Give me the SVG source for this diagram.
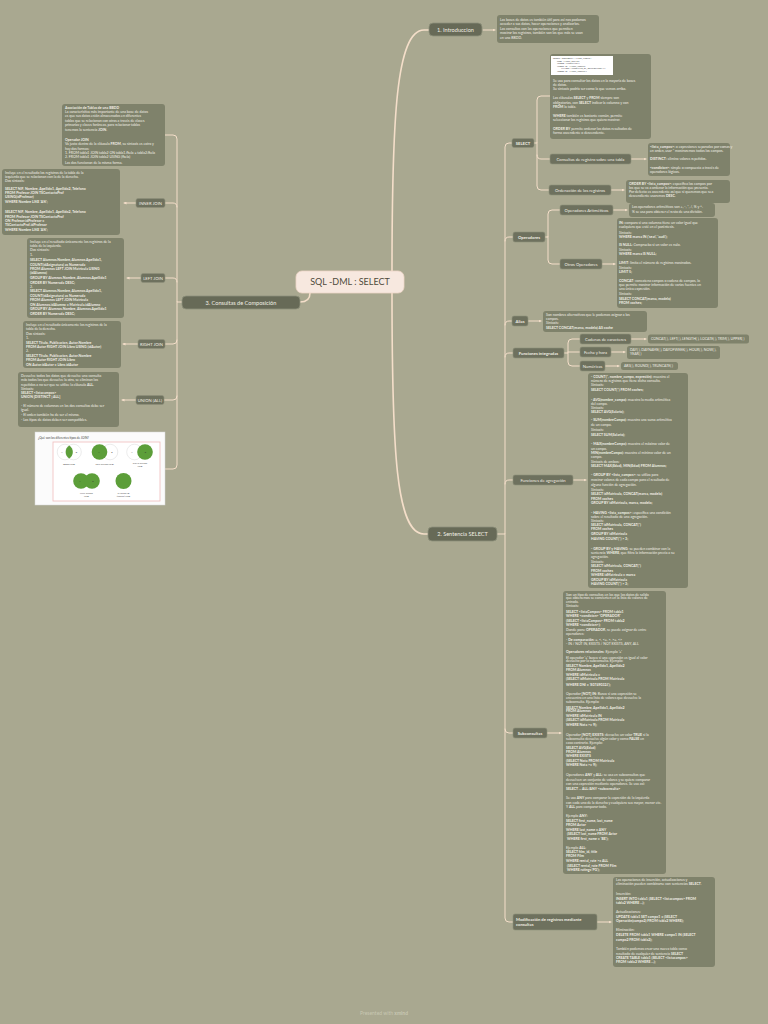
<svg xmlns="http://www.w3.org/2000/svg" width="768" height="1024" viewBox="0 0 768 1024">
<defs>
<marker id="ah" viewBox="0 0 6 6" refX="5" refY="3" markerWidth="3" markerHeight="3" orient="auto"><path d="M0,0 L6,3 L0,6 z" fill="#f4dec9"/></marker>
</defs>
<style>
.bg{fill:#a9a890}
.box{fill:#7f826b}
.pill{fill:#6e715e;stroke:#8e907b;stroke-width:0.6}
.main{fill:#676a57;stroke:#8e907b;stroke-width:0.8}
.c{fill:none;stroke:#f4dec9;stroke-width:1;stroke-linecap:round}
.cm{fill:none;stroke:#f4dec9;stroke-width:1.6;stroke-linecap:round}
.t{font-family:Lato,'Open Sans',sans-serif;font-size:3.5px;fill:#f1efe5}
.b{font-weight:700}
.pt{font-family:Lato,'Open Sans',sans-serif;font-size:4.2px;fill:#f1eee3}
.mt{font-family:Lato,'Open Sans',sans-serif;font-size:5.6px;fill:#f1eee3}
.code{font-family:'Liberation Mono',monospace;font-size:2px;fill:#333}
.vl{font-family:Lato,'Open Sans',sans-serif;font-size:2.2px;fill:#555;text-anchor:middle}
.va{font-family:Lato,'Open Sans',sans-serif;font-size:2px;fill:#333;text-anchor:middle}
.g{fill:#5c9e39}
.o{fill:#fff;stroke:#cfcfcf;stroke-width:0.4}
</style>
<rect class="bg" width="768" height="1024"/>

<g id="connectors">
<path class="cm" d="M392,272 C392,120 396,30 424,30 L429,30"/>
<path class="cm" d="M392,293 C392,450 396,534 424,534 L428,534"/>
<path class="cm" d="M310,293 Q310,302 300,302"/>
<path class="c" d="M483,30 H495" marker-end="url(#ah)"/>
<path class="c" d="M497,534 H505 V147 Q505,143 509,143 H512"/>
<path class="c" d="M505,241 Q505,237 509,237 H513"/>
<path class="c" d="M505,325 Q505,321 509,321 H512"/>
<path class="c" d="M505,357 Q505,353 509,353 H513"/>
<path class="c" d="M505,484 Q505,480 509,480 H513"/>
<path class="c" d="M505,534 V729 Q505,733 509,733 H513"/>
<path class="c" d="M505,729 V918 Q505,922 509,922 H513"/>
<path class="c" d="M534,143 H537 V100 Q537,96 541,96 H550"/>
<path class="c" d="M537,143 V186 Q537,190 541,190 H549"/>
<path class="c" d="M537,155 Q537,159 541,159 H550"/>
<path class="c" d="M631,159 H646" marker-end="url(#ah)"/>
<path class="c" d="M611,190 H624" marker-end="url(#ah)"/>
<path class="c" d="M545,237 H548 V214 Q548,210 552,210 H560"/>
<path class="c" d="M548,237 V260 Q548,264 552,264 H560"/>
<path class="c" d="M613,210 H627" marker-end="url(#ah)"/>
<path class="c" d="M602,264 H615" marker-end="url(#ah)"/>
<path class="c" d="M528,321 H541" marker-end="url(#ah)"/>
<path class="c" d="M564,353 H568 V343 Q568,339 572,339 H580"/>
<path class="c" d="M568,353 V362 Q568,366 572,366 H580"/>
<path class="c" d="M568,352 H580"/>
<path class="c" d="M631,339 H646" marker-end="url(#ah)"/>
<path class="c" d="M611,352 H625" marker-end="url(#ah)"/>
<path class="c" d="M605,366 H619" marker-end="url(#ah)"/>
<path class="c" d="M573,480 H586" marker-end="url(#ah)"/>
<path class="c" d="M547,733 H561" marker-end="url(#ah)"/>
<path class="c" d="M597,922 H611" marker-end="url(#ah)"/>
<path class="c" d="M182,302 H177 V139 Q177,135 173,135 H165"/>
<path class="c" d="M177,207 Q177,203 173,203 H165"/>
<path class="c" d="M177,282 Q177,278 173,278 H165"/>
<path class="c" d="M177,302 V340 Q177,344 173,344 H165"/>
<path class="c" d="M177,340 V396 Q177,400 173,400 H164"/>
<path class="c" d="M177,396 V465 Q177,469 173,469 H165"/>
<path class="c" d="M136,203 H124" marker-end="url(#ah)"/>
<path class="c" d="M141,278 H127" marker-end="url(#ah)"/>
<path class="c" d="M138,344 H123" marker-end="url(#ah)"/>
<path class="c" d="M136,400 H122" marker-end="url(#ah)"/>
</g>

<g id="central">
<rect x="296" y="271" width="108" height="22" rx="6" fill="#f7e8df" stroke="#eed6c6" stroke-width="0.8"/>
<text x="350" y="285" font-family="Lato,'Open Sans',sans-serif" font-size="9" fill="#4f4b3c" text-anchor="middle">SQL -DML : SELECT</text>
</g>

<g id="n-intro">
<rect class="main" x="429" y="23" width="53" height="13" rx="4"/>
<text class="mt" x="455.5" y="31.8" text-anchor="middle">1. Introduccion</text>
</g>
<g id="b-intro">
<rect class="box" x="497" y="15" width="102" height="28" rx="3"/>
<text class="t"><tspan x="500" y="21">Las bases de datos es también útil para así nos podamos</tspan><tspan x="500" y="25.4">acceder a sus datos, hacer operaciones y analizarlos.</tspan><tspan x="500" y="29.8">Las consultas con las operaciones que permiten</tspan><tspan x="500" y="34.2">mostrar los registros, también son las que más se usan</tspan><tspan x="500" y="38.6">en una BBDD.</tspan></text>
</g>

<g id="n-sentencia">
<rect class="main" x="428" y="527" width="69" height="14" rx="4"/>
<text class="mt" x="462.5" y="536.2" text-anchor="middle">2. Sentencia SELECT</text>
</g>

<g id="n-select">
<rect class="pill" x="512" y="138.5" width="22" height="9" rx="2"/>
<text class="pt b" x="523" y="144.5" text-anchor="middle">SELECT</text>
</g>
<g id="b-select">
<rect class="box" x="550" y="54" width="101" height="85" rx="3"/>
<rect x="551" y="56" width="62" height="19" fill="#fff"/>
<text class="code"><tspan x="553" y="59">SELECT [DISTINCT] &lt;lista_campos&gt;</tspan><tspan x="557" y="61.6">FROM &lt;lista_tablas&gt;</tspan><tspan x="557" y="64.2">[WHERE &lt;condicion&gt;]</tspan><tspan x="557" y="66.8">[GROUP BY &lt;lista_campos&gt;</tspan><tspan x="561" y="69.4">[HAVING &lt;condicion_de_agrupamiento&gt;]]</tspan><tspan x="557" y="72">[ORDER BY &lt;lista_campos&gt;]</tspan></text>
<text class="t"><tspan x="553" y="81.5">Se usa para consultar los datos en la mayoría de bases</tspan><tspan x="553" y="85.9">de datos.</tspan><tspan x="553" y="90.3">Su sintaxis podría ser como la que vemos arriba.</tspan><tspan x="553" y="99.1">Las cláusulas <tspan class="b">SELECT</tspan> y <tspan class="b">FROM</tspan> siempre son</tspan><tspan x="553" y="103.5">obligatorias, con <tspan class="b">SELECT</tspan> indicar la columna y con</tspan><tspan x="553" y="107.9" class="b">FROM <tspan font-weight="400">la tabla.</tspan></tspan><tspan x="553" y="116.7"><tspan class="b">WHERE</tspan> también es bastante común, permite</tspan><tspan x="553" y="121.1">seleccionar los registros que quiero mostrar.</tspan><tspan x="553" y="129.9"><tspan class="b">ORDER BY</tspan> permite ordenar los datos resultados de</tspan><tspan x="553" y="134.3">forma ascendente o descendente.</tspan></text>
</g>

<g id="n-consultas-reg">
<rect class="pill" x="550" y="154" width="81" height="10" rx="2"/>
<text class="pt" x="590.5" y="160.5" text-anchor="middle">Consultas de registro sobre una tabla</text>
</g>
<g id="b-consultas-reg">
<rect class="box" x="648" y="143" width="82" height="33" rx="3"/>
<text class="t"><tspan x="650" y="147.5"><tspan class="b">&lt;lista_campos&gt;</tspan>: o expresiones separadas por comas y</tspan><tspan x="650" y="151.5">en orden, usar * mostraremos todos los campos.</tspan><tspan x="650" y="160"><tspan class="b">DISTINCT</tspan>: elimina valores repetidos.</tspan><tspan x="650" y="168.5"><tspan class="b">&lt;condicion&gt;</tspan>: simple o compuesta a través de</tspan><tspan x="650" y="172.5">operadores lógicos.</tspan></text>
</g>

<g id="n-ordenacion">
<rect class="pill" x="549" y="185" width="62" height="10" rx="2"/>
<text class="pt" x="580" y="191.5" text-anchor="middle">Ordenación de los registros</text>
</g>
<g id="b-ordenacion">
<rect class="box" x="626" y="180" width="104" height="23" rx="3"/>
<text class="t"><tspan x="629" y="184.5"><tspan class="b">ORDER BY &lt;lista_campos&gt;</tspan>: especifica los campos por</tspan><tspan x="629" y="188.8">los que se va a ordenar la información que presenta.</tspan><tspan x="629" y="193.1">Por defecto es ascendente así que si queremos que sea</tspan><tspan x="629" y="197.4">descendiente usaremos <tspan class="b">DESC</tspan>.</tspan></text>
</g>

<g id="n-operadores">
<rect class="pill" x="513" y="232" width="32" height="10" rx="2"/>
<text class="pt b" x="529" y="238.5" text-anchor="middle">Operadores</text>
</g>
<g id="n-aritmeticos">
<rect class="pill" x="560" y="205" width="53" height="10" rx="2"/>
<text class="pt" x="586.5" y="211.5" text-anchor="middle">Operadores Aritméticos</text>
</g>
<g id="b-aritmeticos">
<rect class="box" x="629" y="203" width="86" height="14" rx="3"/>
<text class="t"><tspan x="632" y="208.3">Los operadores aritméticos son +, -, *, /, % y ^.</tspan><tspan x="632" y="212.6">% se usa para obtener el resto de una división.</tspan></text>
</g>
<g id="n-otros">
<rect class="pill" x="560" y="259" width="42" height="10" rx="2"/>
<text class="pt" x="581" y="265.5" text-anchor="middle">Otros Operadores</text>
</g>
<g id="b-otros">
<rect class="box" x="617" y="218" width="101" height="90" rx="3"/>
<text class="t"><tspan x="619" y="223.5"><tspan class="b">IN</tspan>: compara si una columna tiene un valor igual que</tspan><tspan x="619" y="227.6">cualquiera que esté en el paréntesis.</tspan><tspan x="619" y="233.8">Sintaxis:</tspan><tspan x="619" y="237.9" class="b">WHERE marca IN ('seat', 'audi');</tspan><tspan x="619" y="246.2"><tspan class="b">IS NULL</tspan>: Comprueba si un valor es nulo.</tspan><tspan x="619" y="251.2">Sintaxis:</tspan><tspan x="619" y="255.4" class="b">WHERE marca IS NULL;</tspan><tspan x="619" y="264.4"><tspan class="b">LIMIT</tspan>: limita el número de registros mostrados.</tspan><tspan x="619" y="268.8">Sintaxis:</tspan><tspan x="619" y="272.9" class="b">LIMIT 5;</tspan><tspan x="619" y="281.8"><tspan class="b">CONCAT</tspan>: concatena campos o cadena de campos, lo</tspan><tspan x="619" y="286.1">que permite mostrar información de varias fuentes en</tspan><tspan x="619" y="290.4">una única expresión.</tspan><tspan x="619" y="295.4">Sintaxis:</tspan><tspan x="619" y="300.1" class="b">SELECT CONCAT(marca, modelo)</tspan><tspan x="619" y="304.4" class="b">FROM coches;</tspan></text>
</g>

<g id="n-alias">
<rect class="pill" x="512" y="316" width="16" height="10" rx="2"/>
<text class="pt b" x="520" y="322.6" text-anchor="middle">Alias</text>
</g>
<g id="b-alias">
<rect class="box" x="543" y="311" width="104" height="21" rx="3"/>
<text class="t"><tspan x="546" y="316.2">Son nombres alternativos que le podemos asignar a los</tspan><tspan x="546" y="320">campos.</tspan><tspan x="546" y="323.9">Sintaxis:</tspan><tspan x="546" y="328.8" class="b">SELECT CONCAT(marca, modelo) AS coche</tspan></text>
</g>

<g id="n-func-int">
<rect class="pill" x="513" y="348" width="51" height="10" rx="2"/>
<text class="pt b" x="538.5" y="354.5" text-anchor="middle">Funciones integradas</text>
</g>
<g id="n-cadenas">
<rect class="pill" x="580" y="334" width="51" height="10" rx="2"/>
<text class="pt" x="605.5" y="340.5" text-anchor="middle">Cadenas de caracteres</text>
</g>
<g id="b-cadenas">
<rect class="box" x="648" y="334.5" width="101" height="9" rx="2.5"/>
<text class="t" x="651" y="340.2">CONCAT( ), LEFT( ), LENGTH( ), LOCATE( ), TRIM( ), UPPER( )</text>
</g>
<g id="n-fecha">
<rect class="pill" x="580" y="347" width="31" height="10" rx="2"/>
<text class="pt" x="595.5" y="353.5" text-anchor="middle">Fecha y hora</text>
</g>
<g id="b-fecha">
<rect class="box" x="627" y="346" width="93" height="13" rx="2.5"/>
<text class="t"><tspan x="630" y="350.6">DAY( ), DAYNAME( ), DAYOFWEEK( ), HOUR( ), NOW( ),</tspan><tspan x="630" y="354.8">YEAR( )</tspan></text>
</g>
<g id="n-numericas">
<rect class="pill" x="580" y="361" width="25" height="10" rx="2"/>
<text class="pt" x="592.5" y="367.5" text-anchor="middle">Numéricas</text>
</g>
<g id="b-numericas">
<rect class="box" x="621" y="362" width="57" height="8" rx="2.5"/>
<text class="t" x="624" y="367.2">ABS( ), ROUND( ), TRUNCATE( )</text>
</g>

<g id="n-func-agr">
<rect class="pill" x="513" y="475" width="60" height="10" rx="2"/>
<text class="pt" x="543" y="481.5" text-anchor="middle">Funciones de agregación</text>
</g>
<g id="b-func-agr">
<rect class="box" x="588" y="373" width="100" height="215" rx="3"/>
<text class="t"><tspan x="591" y="378"><tspan class="b">- COUNT(*, nombre_campo, expresión)</tspan>: muestra el</tspan><tspan x="591" y="382.3">número de registros que tiene dicha consulta.</tspan><tspan x="591" y="386.4">Sintaxis:</tspan><tspan x="591" y="391.3" class="b">SELECT COUNT(*) FROM coches;</tspan><tspan x="591" y="400.8"><tspan class="b">- AVG(nombre_campo)</tspan>: muestra la media aritmética</tspan><tspan x="591" y="405">del campo.</tspan><tspan x="591" y="409.2">Sintaxis:</tspan><tspan x="591" y="413.2" class="b">SELECT AVG(Salario);</tspan><tspan x="591" y="421.4"><tspan class="b">- SUM(nombreCampo)</tspan>: muestra una suma aritmética</tspan><tspan x="591" y="425.6">de un campo.</tspan><tspan x="591" y="430.5">Sintaxis:</tspan><tspan x="591" y="436.2" class="b">SELECT SUM(Salario);</tspan><tspan x="591" y="445.3"><tspan class="b">- MAX(nombreCampo)</tspan>: muestra el máximo valor de</tspan><tspan x="591" y="449.6">un campo.</tspan><tspan x="591" y="453.7"><tspan class="b">MIN(nombreCampo)</tspan>: muestra el mínimo valor de un</tspan><tspan x="591" y="458">campo.</tspan><tspan x="591" y="462.9">Sintaxis de ambos:</tspan><tspan x="591" y="467.3" class="b">SELECT MAX(Edad), MIN(Edad) FROM Alumnos;</tspan><tspan x="591" y="476.3"><tspan class="b">- GROUP BY &lt;lista_campos&gt;</tspan>: se utiliza para</tspan><tspan x="591" y="481.2">mostrar valores de cada campo para el resultado de</tspan><tspan x="591" y="485.6">alguna función de agregación.</tspan><tspan x="591" y="490.6">Sintaxis:</tspan><tspan x="591" y="495.3" class="b">SELECT idMatricula, CONCAT(marca, modelo)</tspan><tspan x="591" y="499.6" class="b">FROM coches</tspan><tspan x="591" y="504" class="b">GROUP BY idMatricula, marca, modelo;</tspan><tspan x="591" y="513.6"><tspan class="b">- HAVING &lt;lista_campos&gt;</tspan>: especifica una condición</tspan><tspan x="591" y="518">sobre el resultado de una agregación.</tspan><tspan x="591" y="522">Sintaxis:</tspan><tspan x="591" y="525.6" class="b">SELECT idMatricula, CONCAT(*)</tspan><tspan x="591" y="530.3" class="b">FROM coches</tspan><tspan x="591" y="534.6" class="b">GROUP BY idMatricula</tspan><tspan x="591" y="539.6" class="b">HAVING COUNT(*) &gt; 3;</tspan><tspan x="591" y="549.6"><tspan class="b">- GROUP BY y HAVING</tspan>: se pueden combinar con la</tspan><tspan x="591" y="553.6">sentencia <tspan class="b">WHERE</tspan>, que filtra la información previa a su</tspan><tspan x="591" y="558">agregación.</tspan><tspan x="591" y="562.6">Sintaxis:</tspan><tspan x="591" y="567.1" class="b">SELECT idMatricula, CONCAT(*)</tspan><tspan x="591" y="571.8" class="b">FROM coches</tspan><tspan x="591" y="575.9" class="b">WHERE idMatricula = marca</tspan><tspan x="591" y="580.5" class="b">GROUP BY idMatricula</tspan><tspan x="591" y="585.2" class="b">HAVING COUNT(*) &gt; 3;</tspan></text>
</g>

<g id="n-subconsultas">
<rect class="pill" x="513" y="728" width="34" height="10" rx="2"/>
<text class="pt b" x="530" y="734.5" text-anchor="middle">Subconsultas</text>
</g>
<g id="b-subconsultas">
<rect class="box" x="563" y="591" width="103" height="283" rx="3"/>
<text class="t"><tspan x="566" y="595.5">Son un tipo de consultas en las que los datos de salida</tspan><tspan x="566" y="599.3">que obtenemos se convierten en la lista de valores de</tspan><tspan x="566" y="603.1">entrada.</tspan><tspan x="566" y="606.6">Sintaxis:</tspan><tspan x="566" y="612.9" class="b">SELECT &lt;listaCampos&gt; FROM tabla1</tspan><tspan x="566" y="616.9" class="b">WHERE &lt;condicion&gt; 'OPERADOR'</tspan><tspan x="566" y="622.2" class="b">(SELECT &lt;listaCampos&gt; FROM tabla2</tspan><tspan x="566" y="626.2" class="b">WHERE &lt;condicion&gt;);</tspan><tspan x="566" y="631.2">Donde pone <tspan class="b">OPERADOR</tspan>, se puede asignar de entre</tspan><tspan x="566" y="635.2">operadores:</tspan><tspan x="566" y="640.5">- <tspan class="b">De comparación</tspan>: =, &lt;, &lt;=, &gt;, &gt;=, &lt;&gt;</tspan><tspan x="566" y="644.5">- IN / NOT IN, EXISTS / NOT EXISTS, ANY, ALL</tspan><tspan x="566" y="652.9"><tspan class="b">Operadores relacionales</tspan>: Ejemplo '='</tspan><tspan x="566" y="658.5">El operador '=' busca si una expresión es igual al valor</tspan><tspan x="566" y="662.2">devuelto por la subconsulta. Ejemplo:</tspan><tspan x="566" y="667.2" class="b">SELECT Nombre, Apellido1, Apellido2</tspan><tspan x="566" y="671.2" class="b">FROM Alumnos</tspan><tspan x="566" y="676.2" class="b">WHERE idMatricula =</tspan><tspan x="566" y="680.2" class="b">(SELECT idMatricula FROM Matricula</tspan><tspan x="566" y="685.5" class="b">WHERE DNI = '80749032J');</tspan><tspan x="566" y="694.5">Operador <tspan class="b">[NOT] IN</tspan>: Busca si una expresión se</tspan><tspan x="566" y="698.9">encuentra en una lista de valores que devuelve la</tspan><tspan x="566" y="702.9">subconsulta. Ejemplo:</tspan><tspan x="566" y="708.5" class="b">SELECT Nombre, Apellido1, Apellido2</tspan><tspan x="566" y="712.2" class="b">FROM Alumnos</tspan><tspan x="566" y="717.2" class="b">WHERE idMatricula IN</tspan><tspan x="566" y="721.2" class="b">(SELECT idMatricula FROM Matricula</tspan><tspan x="566" y="726.2" class="b">WHERE Nota &gt;= 9);</tspan><tspan x="566" y="735.5">Operador <tspan class="b">[NOT] EXISTS</tspan>: devuelve un valor <tspan class="b">TRUE</tspan> si la</tspan><tspan x="566" y="739.5">subconsulta devuelve algún valor y como <tspan class="b">FALSE</tspan> en</tspan><tspan x="566" y="743.9">caso contrario. Ejemplo:</tspan><tspan x="566" y="748.5" class="b">SELECT AVG(Edad)</tspan><tspan x="566" y="753" class="b">FROM Alumnos</tspan><tspan x="566" y="757.3" class="b">WHERE EXISTS</tspan><tspan x="566" y="762.2" class="b">(SELECT Nota FROM Matricula</tspan><tspan x="566" y="766.2" class="b">WHERE Nota &gt;= 9);</tspan><tspan x="566" y="776.2">Operadores <tspan class="b">ANY</tspan> y <tspan class="b">ALL</tspan>: se usa en subconsultas que</tspan><tspan x="566" y="780.5">devuelven un conjunto de valores y se quiere comparar</tspan><tspan x="566" y="784.5">con una expresión mediante operadores. Se usa así:</tspan><tspan x="566" y="789.5" class="b">SELECT ... ALL/ANY &lt;subconsulta&gt;</tspan><tspan x="566" y="798.9">Se usa <tspan class="b">ANY</tspan> para comparar la expresión de la izquierda</tspan><tspan x="566" y="803.5">con cada uno de la derecha y cualquiera sea mayor, menor etc.</tspan><tspan x="566" y="807.9">Y <tspan class="b">ALL</tspan> para comparar todo.</tspan><tspan x="566" y="817.2">Ejemplo <tspan class="b">ANY</tspan>:</tspan><tspan x="566" y="821.9" class="b">SELECT first_name, last_name</tspan><tspan x="566" y="826.2" class="b">FROM Actor</tspan><tspan x="566" y="830.5" class="b">WHERE last_name = ANY</tspan><tspan x="567" y="835.2" class="b">(SELECT last_name FROM Actor</tspan><tspan x="567" y="840.2" class="b">WHERE first_name = 'BE');</tspan><tspan x="566" y="848.9">Ejemplo <tspan class="b">ALL</tspan>:</tspan><tspan x="566" y="852.9" class="b">SELECT film_id, title</tspan><tspan x="566" y="857.2" class="b">FROM Film</tspan><tspan x="566" y="861.9" class="b">WHERE rental_rate &gt;= ALL</tspan><tspan x="567" y="866.9" class="b">(SELECT rental_rate FROM Film</tspan><tspan x="567" y="871.2" class="b">WHERE rating='PG');</tspan></text>
</g>

<g id="n-modificacion">
<rect class="pill" x="513" y="914" width="84" height="16" rx="2"/>
<text class="pt b"><tspan x="516" y="920.8">Modificación de registros mediante</tspan><tspan x="516" y="926">consultas</tspan></text>
</g>
<g id="b-modificacion">
<rect class="box" x="613" y="877" width="102" height="90" rx="3"/>
<text class="t"><tspan x="616" y="881.2">Las operaciones de inserción, actualizaciones y</tspan><tspan x="616" y="885.2">eliminación pueden combinarse con sentencias <tspan class="b">SELECT</tspan>.</tspan><tspan x="616" y="894.5">Inserción:</tspan><tspan x="616" y="899.5" class="b">INSERT INTO tabla1 (SELECT &lt;listacampos&gt; FROM</tspan><tspan x="616" y="903.9" class="b">tabla2 WHERE ...);</tspan><tspan x="616" y="912.9">Actualizaciones:</tspan><tspan x="616" y="917.9" class="b">UPDATE tabla1 SET campo1 = (SELECT</tspan><tspan x="616" y="922.2" class="b">Operación(campo2) FROM tabla2 WHERE);</tspan><tspan x="616" y="931.2">Eliminación:</tspan><tspan x="616" y="936.2" class="b">DELETE FROM tabla1 WHERE campo1 IN (SELECT</tspan><tspan x="616" y="940.5" class="b">campo2 FROM tabla2);</tspan><tspan x="616" y="950.2">También podemos crear una nueva tabla como</tspan><tspan x="616" y="954.5">resultado de cualquier de sentencia <tspan class="b">SELECT</tspan></tspan><tspan x="616" y="958.5" class="b">CREATE TABLE tabla1 (SELECT &lt;listacampos&gt;</tspan><tspan x="616" y="962.8" class="b">FROM tabla2 WHERE ...);</tspan></text>
</g>

<g id="n-composicion">
<rect class="main" x="182" y="296" width="118" height="13" rx="4"/>
<text class="mt" x="241" y="304.8" text-anchor="middle">3. Consultas de Composición</text>
</g>
<g id="b-asociacion">
<rect class="box" x="62" y="104" width="103" height="62" rx="3"/>
<text class="t"><tspan x="65" y="108.5" class="b">Asociación de Tablas de una BBDD</tspan><tspan x="65" y="112.9">La característica más importante de una base de datos</tspan><tspan x="65" y="116.9">es que sus datos están almacenados en diferentes</tspan><tspan x="65" y="121.9">tablas que se relacionan con otras a través de claves</tspan><tspan x="65" y="126.2">primarias y claves foráneas, para relacionar tablas</tspan><tspan x="65" y="130.5">tenemos la sentencia <tspan class="b">JOIN</tspan>.</tspan><tspan x="65" y="140.5" class="b">Operador JOIN</tspan><tspan x="65" y="145.2">Va justo dentro de la cláusula <tspan class="b">FROM</tspan>, su sintaxis es extra y</tspan><tspan x="65" y="149.5">hay dos formas:</tspan><tspan x="65" y="153.9">1. FROM tabla1 JOIN tabla2 ON tabla1.fkela = tabla2.fkela</tspan><tspan x="65" y="157.9">2. FROM tabla1 JOIN tabla2 USING (fkela)</tspan><tspan x="65" y="163.9">Las dos funcionan de la misma forma.</tspan></text>
</g>

<g id="n-inner">
<rect class="pill" x="136" y="198.5" width="29" height="9" rx="2"/>
<text class="pt" x="150.5" y="204.5" text-anchor="middle">INNER JOIN</text>
</g>
<g id="b-inner">
<rect class="box" x="2" y="169" width="118" height="66" rx="3"/>
<text class="t"><tspan x="5" y="173.9">Incluye en el resultado los registros de la tabla de la</tspan><tspan x="5" y="177.9">izquierda que se relacionan con la de la derecha.</tspan><tspan x="5" y="181.9">Dos sintaxis:</tspan><tspan x="5" y="190" class="b">SELECT NIF, Nombre, Apellido1, Apellido2, Telefono</tspan><tspan x="5" y="194.2" class="b">FROM Profesor JOIN TSContactoProf</tspan><tspan x="5" y="198.4" class="b">USING(idProfesor)</tspan><tspan x="5" y="202.8" class="b">WHERE Nombre LIKE 'A%';</tspan><tspan x="5" y="213.3" class="b">SELECT NIF, Nombre, Apellido1, Apellido2, Telefono</tspan><tspan x="5" y="217.5" class="b">FROM Profesor JOIN TSContactoProf</tspan><tspan x="5" y="221.8" class="b">ON Profesor.idProfesor =</tspan><tspan x="5" y="226.1" class="b">TSContactoProf.idProfesor</tspan><tspan x="5" y="230.6" class="b">WHERE Nombre LIKE 'A%';</tspan></text>
</g>

<g id="n-left">
<rect class="pill" x="141" y="273.5" width="24" height="9" rx="2"/>
<text class="pt" x="153" y="279.5" text-anchor="middle">LEFT JOIN</text>
</g>
<g id="b-left">
<rect class="box" x="27" y="238" width="97" height="80" rx="3"/>
<text class="t"><tspan x="30" y="242.9">Incluye en el resultado únicamente los registros de la</tspan><tspan x="30" y="247.2">tabla de la izquierda.</tspan><tspan x="30" y="251.2">Dos sintaxis:</tspan><tspan x="30" y="256.2">1.</tspan><tspan x="30" y="261.2" class="b">SELECT Alumnos.Nombre, Alumnos.Apellido1,</tspan><tspan x="30" y="265.5" class="b">COUNT(idAsignatura) as Numerada</tspan><tspan x="30" y="269.5" class="b">FROM Alumnos LEFT JOIN Matricula USING</tspan><tspan x="30" y="273.9" class="b">(idAlumno)</tspan><tspan x="30" y="278.5" class="b">GROUP BY Alumnos.Nombre, Alumnos.Apellido1</tspan><tspan x="30" y="283.5" class="b">ORDER BY Numerada DESC;</tspan><tspan x="30" y="287.9">2.</tspan><tspan x="30" y="292.2" class="b">SELECT Alumnos.Nombre, Alumnos.Apellido1,</tspan><tspan x="30" y="296.5" class="b">COUNT(idAsignatura) as Numerada</tspan><tspan x="30" y="301.2" class="b">FROM Alumnos LEFT JOIN Matricula</tspan><tspan x="30" y="305.5" class="b">ON Alumnos.idAlumno = Matricula.idAlumno</tspan><tspan x="30" y="310.2" class="b">GROUP BY Alumnos.Nombre, Alumnos.Apellido1</tspan><tspan x="30" y="314.5" class="b">ORDER BY Numerada DESC;</tspan></text>
</g>

<g id="n-right">
<rect class="pill" x="138" y="339.5" width="27" height="9" rx="2"/>
<text class="pt" x="151.5" y="345.5" text-anchor="middle">RIGHT JOIN</text>
</g>
<g id="b-right">
<rect class="box" x="23" y="321" width="98" height="47" rx="3"/>
<text class="t"><tspan x="26" y="326.2">Incluye en el resultado únicamente los registros de la</tspan><tspan x="26" y="330.2">tabla de la derecha.</tspan><tspan x="26" y="334.5">Dos sintaxis:</tspan><tspan x="26" y="338.5">1.</tspan><tspan x="26" y="343.5" class="b">SELECT Título, Publicacion, Autor.Nombre</tspan><tspan x="26" y="347.9" class="b">FROM Autor RIGHT JOIN Libro USING (idAutor)</tspan><tspan x="26" y="352.2">2.</tspan><tspan x="26" y="356.9" class="b">SELECT Título, Publicacion, Autor.Nombre</tspan><tspan x="26" y="361.2" class="b">FROM Autor RIGHT JOIN Libro</tspan><tspan x="26" y="365.5" class="b">ON Autor.idAutor = Libro.idAutor</tspan></text>
</g>

<g id="n-union">
<rect class="pill" x="136" y="395.5" width="28" height="9" rx="2"/>
<text class="pt" x="150" y="401.5" text-anchor="middle">UNION (ALL)</text>
</g>
<g id="b-union">
<rect class="box" x="18" y="372" width="101" height="55" rx="3"/>
<text class="t"><tspan x="21" y="376.9">Devuelve todos los datos que devuelve una consulta</tspan><tspan x="21" y="381.2">más todos los que devuelve la otra, se eliminan los</tspan><tspan x="21" y="385.5">repetidos a no ser que se utilice la cláusula <tspan class="b">ALL</tspan>.</tspan><tspan x="21" y="389.5">Sintaxis:</tspan><tspan x="21" y="393.9" class="b">SELECT &lt;listacampos&gt;</tspan><tspan x="21" y="397.9" class="b">UNION [DISTINCT | ALL]</tspan><tspan x="21" y="406.9">- El número de columnas en las dos consultas debe ser</tspan><tspan x="21" y="410.5">igual.</tspan><tspan x="21" y="415.5">- El orden también ha de ser el mismo.</tspan><tspan x="21" y="421.2">- Los tipos de datos deben ser compatibles.</tspan></text>
</g>

<g id="img-joins">
<rect x="35" y="432" width="130" height="73" fill="#fbfbfb" stroke="#d5d5d5" stroke-width="0.5"/>
<text x="38" y="438.5" font-family="Lato,'Open Sans',sans-serif" font-size="3" fill="#444">¿Qué son los diferentes tipos de JOIN?</text>
<rect x="53" y="442" width="107" height="59" fill="#fff" stroke="#f0bcbc" stroke-width="0.8"/>
<circle class="o" cx="65" cy="452" r="7.8"/><circle class="o" cx="73.5" cy="452" r="7.8" fill="none"/>
<path class="g" d="M69.25,445.46 A7.8,7.8 0 0 1 69.25,458.54 A7.8,7.8 0 0 1 69.25,445.46 Z"/>
<text class="va" x="62" y="452.7">A</text><text class="va" x="76.5" y="452.7">B</text>
<text class="vl" x="69" y="465">INNER JOIN</text>
<circle class="o" cx="110" cy="452" r="7.8"/><circle class="g" cx="99.5" cy="452" r="7.8"/>
<text class="va" x="99" y="452.7">A</text><text class="va" x="112" y="452.7">B</text>
<text class="vl" x="104.5" y="465">LEFT OUTER JOIN</text>
<circle class="o" cx="134.5" cy="452" r="7.8"/><circle class="g" cx="145" cy="452" r="7.8"/>
<text class="va" x="132" y="452.7">A</text><text class="va" x="145.5" y="452.7">B</text>
<text class="vl" x="140" y="464">RIGHT OUTER</text><text class="vl" x="140" y="467">JOIN</text>
<circle class="g" cx="81" cy="481" r="7.8"/><circle class="g" cx="92" cy="481" r="7.8"/>
<text class="va" x="80" y="481.7">A</text><text class="va" x="93" y="481.7">B</text>
<text class="vl" x="86.5" y="494">FULL OUTER</text><text class="vl" x="86.5" y="497">JOIN</text>
<circle class="g" cx="123.5" cy="481" r="8"/>
<text class="vl" x="123.5" y="494">CARTESIAN</text><text class="vl" x="123.5" y="497">(CROSS) JOIN</text>
</g>

<text x="384" y="1015" font-family="Lato,'Open Sans',sans-serif" font-size="5" fill="#c8c7b2" text-anchor="middle">Presented with <tspan font-weight="700">xmind</tspan></text>
</svg>
